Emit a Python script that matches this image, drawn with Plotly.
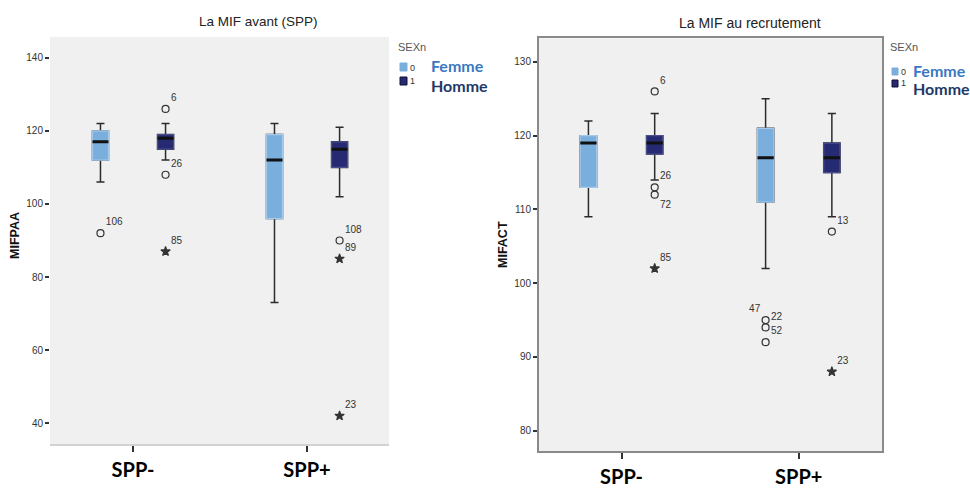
import plotly.graph_objects as go

W, H = 970, 488

# ---------------- data ----------------
categories = ["SPP-", "SPP+"]
tick_left = [40, 60, 80, 100, 120, 140]
tick_right = [80, 90, 100, 110, 120, 130]

# Left panel : La MIF avant (SPP) -- MIFPAA
left_femme_lower = [106, 73]
left_femme_q1 = [112, 96]
left_femme_median = [117, 112]
left_femme_q3 = [120, 119]
left_femme_upper = [122, 122]

left_homme_lower = [112, 102]
left_homme_q1 = [115, 110]
left_homme_median = [118, 115]
left_homme_q3 = [119, 117]
left_homme_upper = [122, 121]

left_femme_out_cat = ["SPP-"]
left_femme_out_val = [92]
left_femme_out_id = ["106"]
left_femme_out_kind = ["o"]

left_homme_out_cat = ["SPP-", "SPP-", "SPP-", "SPP+", "SPP+", "SPP+"]
left_homme_out_val = [126, 108, 87, 90, 85, 42]
left_homme_out_id = ["6", "26", "85", "108", "89", "23"]
left_homme_out_kind = ["o", "o", "*", "o", "*", "*"]

# Right panel : La MIF au recrutement -- MIFACT
right_femme_lower = [109, 102]
right_femme_q1 = [113, 111]
right_femme_median = [119, 117]
right_femme_q3 = [120, 121]
right_femme_upper = [122, 125]

right_homme_lower = [114, 109]
right_homme_q1 = [117.5, 115]
right_homme_median = [119, 117]
right_homme_q3 = [120, 119]
right_homme_upper = [123, 123]

right_femme_out_cat = ["SPP+", "SPP+", "SPP+"]
right_femme_out_val = [95, 94, 92]
right_femme_out_id = ["47", "22", "52"]
right_femme_out_kind = ["o", "o", "o"]

right_homme_out_cat = ["SPP-", "SPP-", "SPP-", "SPP-", "SPP+", "SPP+"]
right_homme_out_val = [126, 113, 112, 102, 107, 88]
right_homme_out_id = ["6", "26", "72", "85", "13", "23"]
right_homme_out_kind = ["o", "o", "o", "*", "o", "*"]

# ---------------- style ----------------
FEMME_FILL = "#7aaedd"
FEMME_EDGE = "#a6c9ea"
HOMME_FILL = "#262a72"
HOMME_EDGE = "#4a4e8a"
WHISKER = "#2b2b2b"
FEMME_TXT = "#3a78c2"
HOMME_TXT = "#1e3866"
SMALL_FONT = "Liberation Sans"
SYMBOLS = {"o": "circle-open", "*": "star"}
LABEL_POS = {"left": {}, "right": {"47": "top left", "72": "bottom right"}}


def px(x):
    return x / W


def py(y):
    return 1 - y / H


fig = go.Figure()


def add_group(xa, ya, lower, q1, med, q3, upper, fill, edge, group):
    common = dict(x=categories, boxpoints=False, offsetgroup=group, alignmentgroup="a",
                  showlegend=False, hoverinfo="skip", xaxis=xa, yaxis=ya)
    # whiskers
    fig.add_trace(go.Box(q1=q1, median=med, q3=q3, lowerfence=lower, upperfence=upper,
                         fillcolor="rgba(0,0,0,0)", line=dict(color=WHISKER, width=1.5),
                         whiskerwidth=0.5, **common))
    # box body
    fig.add_trace(go.Box(q1=q1, median=med, q3=q3, lowerfence=q1, upperfence=q3,
                         fillcolor=fill, line=dict(color=edge, width=1.2),
                         whiskerwidth=0, **common))
    # thick median
    fig.add_trace(go.Box(q1=med, median=med, q3=med, lowerfence=med, upperfence=med,
                         fillcolor="rgba(0,0,0,0)", line=dict(color="#111111", width=3),
                         whiskerwidth=0, **common))


def add_outliers(xa, ya, cats, vals, ids, kinds, group, side):
    fig.add_trace(go.Scatter(
        x=cats, y=vals, text=ids, mode="markers+text",
        textposition=[LABEL_POS[side].get(i, "top right") for i in ids],
        textfont=dict(family=SMALL_FONT, size=10, color="#333333"),
        marker=dict(symbol=[SYMBOLS[k] for k in kinds], size=7, color="#333333",
                    line=dict(color="#333333", width=1.2)),
        offsetgroup=group, alignmentgroup="a", showlegend=False, hoverinfo="skip",
        xaxis=xa, yaxis=ya, cliponaxis=False))


add_group("x", "y", left_femme_lower, left_femme_q1, left_femme_median, left_femme_q3,
          left_femme_upper, FEMME_FILL, FEMME_EDGE, "F")
add_group("x", "y", left_homme_lower, left_homme_q1, left_homme_median, left_homme_q3,
          left_homme_upper, HOMME_FILL, HOMME_EDGE, "H")
add_outliers("x", "y", left_femme_out_cat, left_femme_out_val, left_femme_out_id,
             left_femme_out_kind, "F", "left")
add_outliers("x", "y", left_homme_out_cat, left_homme_out_val, left_homme_out_id,
             left_homme_out_kind, "H", "left")

add_group("x2", "y2", right_femme_lower, right_femme_q1, right_femme_median, right_femme_q3,
          right_femme_upper, FEMME_FILL, FEMME_EDGE, "F")
add_group("x2", "y2", right_homme_lower, right_homme_q1, right_homme_median, right_homme_q3,
          right_homme_upper, HOMME_FILL, HOMME_EDGE, "H")
add_outliers("x2", "y2", right_femme_out_cat, right_femme_out_val, right_femme_out_id,
             right_femme_out_kind, "F", "right")
add_outliers("x2", "y2", right_homme_out_cat, right_homme_out_val, right_homme_out_id,
             right_homme_out_kind, "H", "right")

xtick_font = dict(family="Lato", size=20, color="#000000", weight="bold")
ytick_font = dict(family=SMALL_FONT, size=10, color="#333333")

fig.update_layout(
    width=W, height=H, margin=dict(l=0, r=0, t=0, b=0, autoexpand=False),
    paper_bgcolor="white", plot_bgcolor="#f0f0f0",
    boxmode="group", boxgap=0.252, boxgroupgap=0.754,
    scattermode="group", scattergap=0.252,
    showlegend=False,
    xaxis=dict(domain=[px(50), px(389)], anchor="y", type="category", automargin=False,
               categoryorder="array", categoryarray=categories,
               range=[-0.477, 1.471], showgrid=False, zeroline=False,
               showline=True, linecolor="#d2d2d2", linewidth=2,
               ticks="outside", ticklen=6, tickwidth=1.5, tickcolor="#333333",
               tickfont=xtick_font, ticklabelstandoff=1),
    yaxis=dict(domain=[py(444), py(37)], anchor="x", range=[34.3, 145.7], automargin=False,
               tickvals=tick_left, showgrid=False, zeroline=False, showline=False,
               ticks="outside", ticklen=4, tickwidth=1.5, tickcolor="#333333",
               tickfont=ytick_font),
    xaxis2=dict(domain=[px(539), px(882)], anchor="y2", type="category", automargin=False,
                categoryorder="array", categoryarray=categories,
                range=[-0.466, 1.47], showgrid=False, zeroline=False,
                showline=True, mirror=True, linecolor="#8a8a8a", linewidth=2,
                ticks="outside", ticklen=6, tickwidth=1.5, tickcolor="#333333",
                tickfont=xtick_font, ticklabelstandoff=1),
    yaxis2=dict(domain=[py(451), py(38.3)], anchor="x2", range=[77.25, 133.2], automargin=False,
                tickvals=tick_right, showgrid=False, zeroline=False,
                showline=True, mirror=True, linecolor="#8a8a8a", linewidth=2,
                ticks="outside", ticklen=4, tickwidth=1.5, tickcolor="#333333",
                tickfont=ytick_font),
)

LEG_FONT = dict(family="Lato", size=16, weight="bold")
annotations = [
    dict(text="La MIF avant (SPP)", x=px(258), y=py(21), xanchor="center",
         font=dict(family=SMALL_FONT, size=13.5, color="#222222")),
    dict(text="La MIF au recrutement", x=px(750), y=py(23), xanchor="center",
         font=dict(family=SMALL_FONT, size=14, color="#222222")),
    dict(text="<b>MIFPAA</b>", x=px(15), y=py(236), xanchor="center", textangle=-90,
         font=dict(family=SMALL_FONT, size=12.5, color="#111111")),
    dict(text="<b>MIFACT</b>", x=px(503), y=py(245), xanchor="center", textangle=-90,
         font=dict(family=SMALL_FONT, size=12.5, color="#111111")),
    # legends
    dict(text="SEXn", x=px(396), y=py(47), xanchor="left", font=dict(family=SMALL_FONT, size=11, color="#555555")),
    dict(text="0", x=px(408), y=py(68), xanchor="left", font=dict(family=SMALL_FONT, size=9, color="#333333")),
    dict(text="1", x=px(408), y=py(81), xanchor="left", font=dict(family=SMALL_FONT, size=9, color="#333333")),
    dict(text="Femme", x=px(429), y=py(66), xanchor="left", font=dict(color=FEMME_TXT, **LEG_FONT)),
    dict(text="Homme", x=px(429), y=py(85), xanchor="left", font=dict(color=HOMME_TXT, **LEG_FONT)),
    dict(text="SEXn", x=px(888), y=py(47), xanchor="left", font=dict(family=SMALL_FONT, size=11, color="#555555")),
    dict(text="0", x=px(899), y=py(72), xanchor="left", font=dict(family=SMALL_FONT, size=9, color="#333333")),
    dict(text="1", x=px(899), y=py(83), xanchor="left", font=dict(family=SMALL_FONT, size=9, color="#333333")),
    dict(text="Femme", x=px(911), y=py(70), xanchor="left", font=dict(color=FEMME_TXT, **LEG_FONT)),
    dict(text="Homme", x=px(911), y=py(89), xanchor="left", font=dict(color=HOMME_TXT, **LEG_FONT)),
]
for a in annotations:
    a.update(xref="paper", yref="paper", showarrow=False, yanchor="middle")
fig.update_layout(annotations=annotations)

legend_squares = [
    (400, 63, 407, 71, FEMME_FILL, FEMME_FILL),
    (400, 77, 407, 85, HOMME_FILL, "#111133"),
    (892, 68, 898, 75, FEMME_FILL, FEMME_FILL),
    (892, 80, 898, 87, HOMME_FILL, "#111133"),
]
for x0, y0, x1, y1, fc, lc in legend_squares:
    fig.add_shape(type="rect", xref="paper", yref="paper",
                  x0=px(x0), x1=px(x1), y0=py(y1), y1=py(y0),
                  fillcolor=fc, line=dict(color=lc, width=1))

# remove the browser's default 8px body margin so the figure fills the window exactly
fig.write_html("out.html", config={"displayModeBar": False},
               post_script="document.body.style.margin='0';document.body.style.overflow='hidden';")
